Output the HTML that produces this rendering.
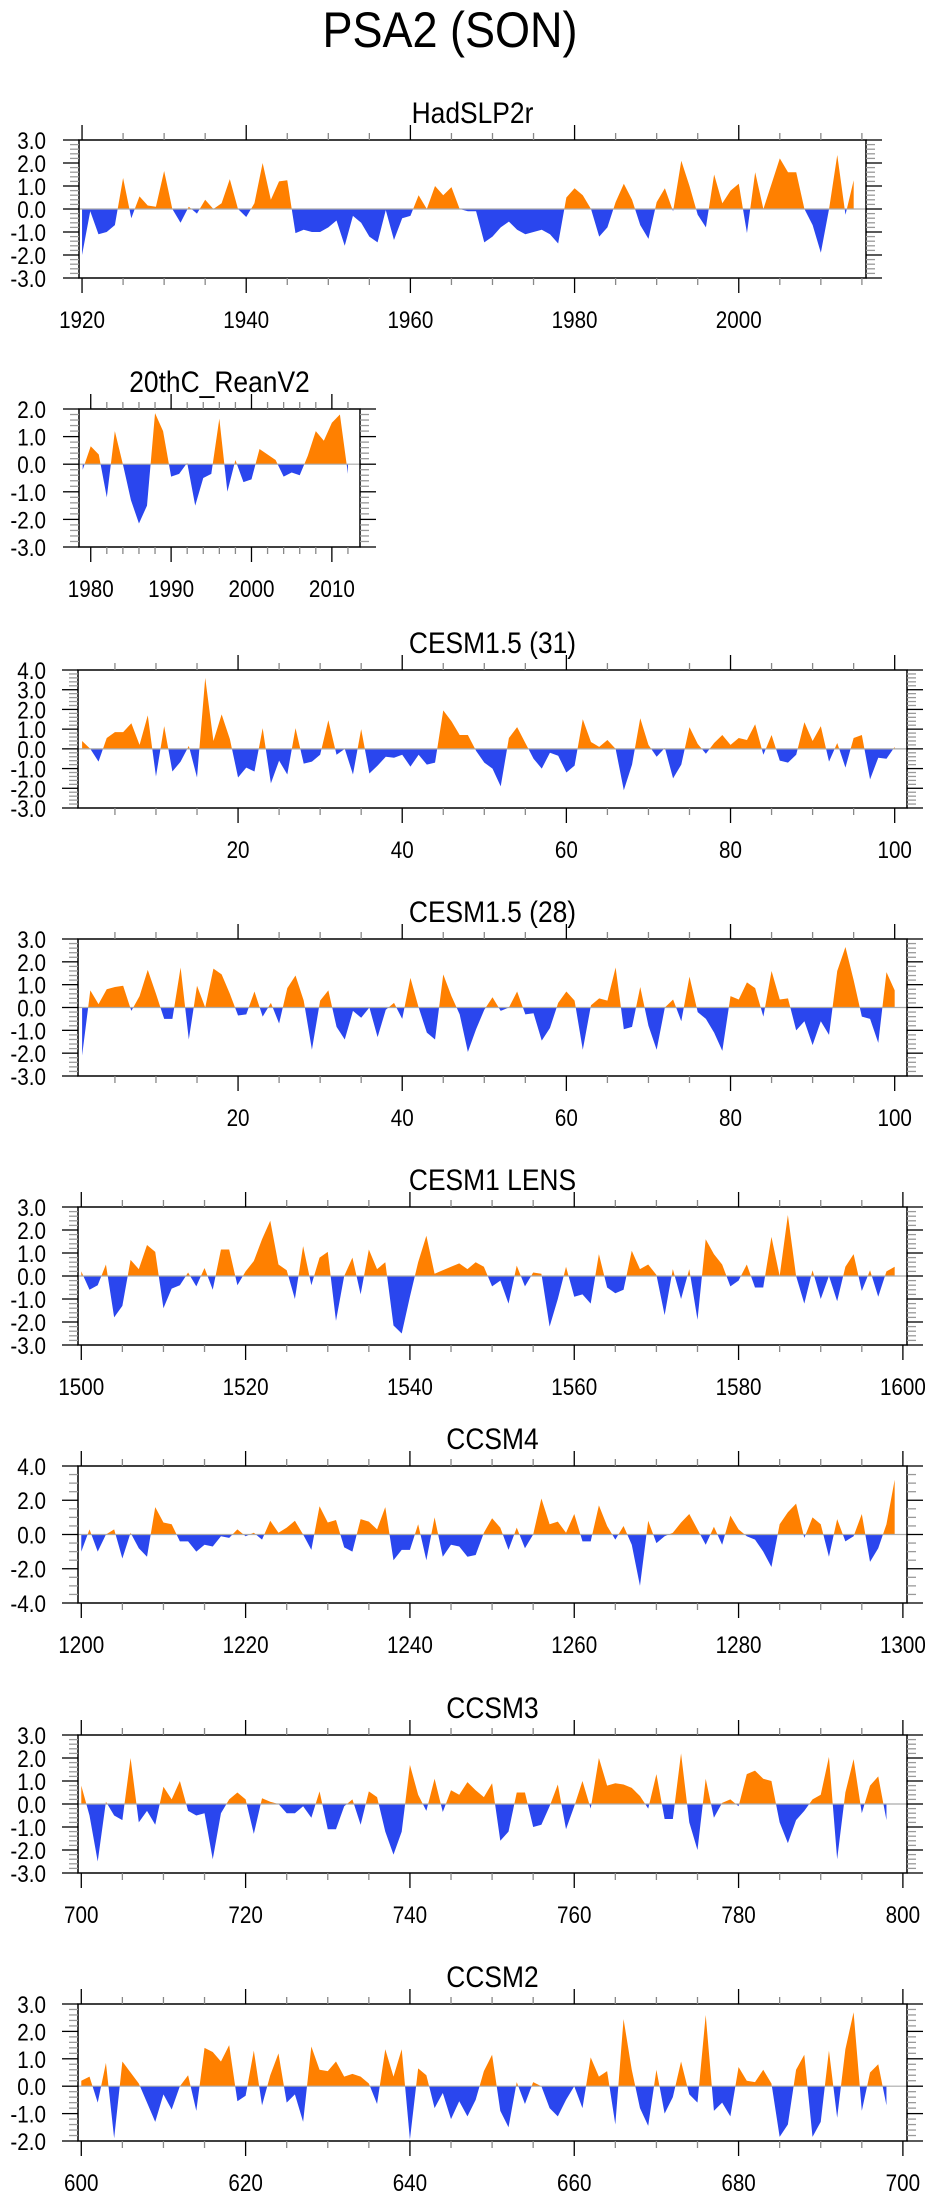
<!DOCTYPE html>
<html><head><meta charset="utf-8">
<style>
html,body{margin:0;padding:0;background:#fff;}
svg{display:block;font-family:"Liberation Sans",sans-serif;}
</style></head>
<body>
<svg id="chart" width="925" height="2191" viewBox="0 0 925 2191" xmlns="http://www.w3.org/2000/svg">
<text x="450" y="47" font-size="50" text-anchor="middle" transform="translate(450,0) scale(0.9,1) translate(-450,0)">PSA2 (SON)</text>
</svg>
<script>
// ---------- data ----------
const hadStart = 1920;
const hadValues = [-2.0,-0.1,-1.1,-1.0,-0.7,1.35,-0.4,0.55,0.15,0.1,1.65,0.0,-0.6,0.1,-0.2,0.4,0.0,0.25,1.3,0.0,-0.35,0.25,2.0,0.4,1.2,1.25,-1.05,-0.9,-1.0,-1.0,-0.8,-0.5,-1.6,-0.3,-0.6,-1.2,-1.45,-0.05,-1.35,-0.4,-0.3,0.6,0.0,1.0,0.6,0.95,0.0,-0.1,-0.1,-1.45,-1.2,-0.8,-0.55,-0.9,-1.1,-1.0,-0.9,-1.1,-1.5,0.5,0.9,0.6,0.0,-1.2,-0.8,0.3,1.1,0.4,-0.7,-1.3,0.3,0.9,-0.1,2.1,1.0,-0.25,-0.8,1.5,0.25,0.8,1.1,-1.05,1.6,0.0,1.1,2.2,1.6,1.6,0.0,-0.7,-1.9,0.0,2.35,-0.25,1.25];
const reanStart = 1979;
const reanValues = [-0.2,0.65,0.35,-1.2,1.2,0.0,-1.3,-2.15,-1.5,1.85,1.2,-0.45,-0.35,0.05,-1.5,-0.5,-0.35,1.65,-1.0,0.15,-0.65,-0.55,0.55,0.35,0.15,-0.45,-0.3,-0.4,0.3,1.2,0.85,1.5,1.8,-0.35];
const c31Start = 1;
const c31Values = [0.4,0.0,-0.65,0.55,0.85,0.85,1.3,0.2,1.7,-1.4,1.15,-1.15,-0.65,0.15,-1.45,3.6,0.4,1.75,0.5,-1.45,-0.95,-1.15,1.05,-1.75,-0.6,-1.3,1.05,-0.75,-0.65,-0.3,1.45,-0.3,0.0,-1.3,1.0,-1.25,-0.85,-0.4,-0.45,-0.3,-0.9,-0.3,-0.8,-0.7,1.95,1.4,0.7,0.7,-0.1,-0.7,-1.0,-1.9,0.55,1.1,0.3,-0.5,-1.0,-0.2,-0.35,-1.2,-0.85,1.5,0.35,0.1,0.45,0.0,-2.1,-0.8,1.55,0.2,-0.4,0.05,-1.5,-0.8,1.1,0.25,-0.25,0.3,0.7,0.2,0.55,0.45,1.25,-0.3,0.7,-0.6,-0.7,-0.3,1.35,0.4,1.15,-0.65,0.3,-0.95,0.55,0.7,-1.55,-0.45,-0.5,0.1];
const c28Start = 1;
const c28Values = [-2.1,0.75,0.15,0.8,0.9,0.95,-0.15,0.5,1.65,0.6,-0.5,-0.5,1.75,-1.4,0.95,0.0,1.7,1.45,0.6,-0.35,-0.3,0.7,-0.4,0.2,-0.7,0.85,1.4,0.3,-1.85,0.3,0.75,-0.85,-1.4,-0.15,-0.45,0.0,-1.3,-0.1,0.2,-0.5,1.3,0.0,-1.1,-1.4,1.45,0.5,-0.3,-1.95,-0.95,-0.1,0.45,-0.15,0.0,0.7,-0.3,-0.25,-1.45,-0.9,0.2,0.7,0.3,-1.85,0.1,0.4,0.3,1.75,-0.95,-0.85,0.9,-0.8,-1.85,0.0,0.35,-0.6,1.35,-0.2,-0.5,-1.1,-1.9,0.5,0.35,1.1,0.85,-0.4,1.6,0.35,0.4,-1.0,-0.6,-1.65,-0.6,-1.2,1.6,2.65,1.2,-0.4,-0.5,-1.55,1.55,0.75];
const lensStart = 1500;
const lensValues = [0.2,-0.6,-0.4,0.5,-1.8,-1.3,0.7,0.3,1.35,1.05,-1.4,-0.55,-0.4,0.15,-0.45,0.35,-0.6,1.15,1.15,-0.4,0.2,0.65,1.6,2.4,0.5,0.25,-1.0,1.3,-0.4,0.8,1.05,-1.95,0.0,0.8,-0.8,1.15,0.3,0.6,-2.15,-2.5,-0.9,0.6,1.75,0.1,0.25,0.4,0.55,0.3,0.6,0.4,-0.45,-0.2,-1.2,0.45,-0.45,0.15,0.1,-2.2,-1.0,0.4,-0.9,-0.8,-1.2,0.95,-0.5,-0.75,-0.6,1.1,0.3,0.5,0.05,-1.7,0.3,-1.0,0.3,-1.9,1.6,0.95,0.5,-0.45,-0.2,0.5,-0.5,-0.5,1.7,0.0,2.65,0.0,-1.2,0.25,-1.0,0.0,-1.1,0.4,0.95,-0.65,0.25,-0.9,0.2,0.4];
const ccsm4Start = 1200;
const ccsm4Values = [-1.0,0.3,-1.0,0.0,0.3,-1.4,0.1,-0.8,-1.3,1.6,0.7,0.6,-0.4,-0.4,-1.0,-0.6,-0.7,-0.1,-0.2,0.3,-0.1,0.1,-0.3,0.8,0.1,0.4,0.8,0.0,-0.9,1.65,0.7,0.85,-0.75,-1.0,0.9,0.75,0.3,1.6,-1.5,-0.9,-0.9,0.6,-1.5,1.0,-1.3,-0.6,-0.7,-1.3,-1.2,0.1,0.95,0.4,-0.9,0.4,-0.8,0.0,2.1,0.6,0.75,0.1,1.2,-0.4,-0.4,1.7,0.5,-0.3,0.5,-0.6,-3.0,0.8,-0.5,-0.1,0.1,0.7,1.2,0.3,-0.6,0.45,-0.6,1.1,0.3,-0.1,-0.3,-1.0,-1.9,0.6,1.3,1.8,-0.2,1.0,0.6,-1.3,0.9,-0.4,-0.1,1.2,-1.6,-0.8,0.6,3.2];
const ccsm3Start = 700;
const ccsm3Values = [0.8,-0.5,-2.5,0.1,-0.5,-0.7,2.0,-0.8,-0.3,-0.9,0.75,0.2,1.0,-0.3,-0.5,-0.4,-2.4,-0.4,0.2,0.5,0.2,-1.3,0.25,0.1,0.0,-0.4,-0.4,-0.1,-0.6,0.55,-1.1,-1.1,-0.1,0.2,-0.9,0.55,0.3,-1.2,-2.2,-1.2,1.7,0.4,-0.3,1.1,-0.35,0.6,0.4,0.95,0.6,0.3,0.9,-1.6,-1.2,0.5,0.5,-1.0,-0.9,-0.1,0.85,-1.1,-0.1,1.0,-0.2,2.0,0.8,0.9,0.85,0.7,0.35,-0.2,1.3,-0.65,-0.65,2.2,-0.8,-2.0,1.1,-0.6,0.05,0.2,-0.1,1.3,1.45,1.1,1.0,-0.8,-1.7,-0.7,-0.3,0.2,0.4,2.05,-2.4,0.5,1.95,-0.4,0.8,1.2,-0.7];
const ccsm2Start = 600;
const ccsm2Values = [0.2,0.35,-0.6,0.85,-1.9,0.9,0.5,0.1,-0.6,-1.3,-0.3,-0.85,0.0,0.4,-0.9,1.4,1.25,0.9,1.5,-0.55,-0.35,1.3,-0.7,0.4,1.2,-0.6,-0.3,-1.3,1.45,0.6,0.55,0.9,0.35,0.45,0.35,0.1,-0.65,1.35,0.35,1.35,-1.95,0.65,0.4,-0.8,-0.25,-1.2,-0.55,-1.1,-0.5,0.55,1.15,-0.9,-1.5,0.15,-0.65,0.15,0.0,-0.8,-1.1,-0.5,0.0,-0.8,1.05,0.35,0.55,-1.4,2.45,0.6,-0.8,-1.45,0.6,-1.0,-0.4,0.9,-0.3,-0.6,2.6,-0.9,-0.6,-1.1,0.7,0.2,0.15,0.6,0.1,-1.85,-1.4,0.6,1.15,-1.85,-1.3,1.3,-1.15,1.35,2.7,-0.9,0.5,0.8,-0.7];

const hadXLabels = [1920,1940,1960,1980,2000];
const reanXLabels = [1980,1990,2000,2010];
const cesmXLabels = [20,40,60,80,100];
const lensXLabels = [1500,1520,1540,1560,1580,1600];
const ccsm4XLabels = [1200,1220,1240,1260,1280,1300];
const ccsm3XLabels = [700,720,740,760,780,800];
const ccsm2XLabels = [600,620,640,660,680,700];

// ---------- drawing ----------
const NS = 'http://www.w3.org/2000/svg';
const svg = document.getElementById('chart');
function mk(tag, attrs, parent) {
  const e = document.createElementNS(NS, tag);
  for (const k in attrs) e.setAttribute(k, attrs[k]);
  (parent || svg).appendChild(e);
  return e;
}
let clipId = 0;
function panel(p) {
  const g = mk('g', {});
  
  
  const L = p.x0, R = p.x1, T = p.y0, B = p.y1;
  const sx = v => L + (v - p.xmin) / (p.xmax - p.xmin) * (R - L);
  const sy = v => B - (v - p.ymin) / (p.ymax - p.ymin) * (B - T);
  // title
  const t = mk('text', {x: (L + R) / 2, y: T - 17, 'font-size': 30, 'text-anchor': 'middle',
    transform: `translate(${(L + R) / 2},0) scale(0.88,1) translate(${-(L + R) / 2},0)`}, g);
  t.textContent = p.title;
  
  
  // area
  const xs = p.values.map((v, i) => sx(p.start + i));
  const ys = p.values.map(v => sy(v));
  const y0 = sy(0);
  let d = `M${xs[0]},${y0}`;
  for (let i = 0; i < xs.length; i++) d += ` L${xs[i]},${ys[i]}`;
  d += ` L${xs[xs.length - 1]},${y0} Z`;
  const cu = 'cu' + (clipId), cd = 'cd' + (clipId++);
  const defs = mk('defs', {}, g);
  const c1 = mk('clipPath', {id: cu}, defs);
  mk('rect', {x: L, y: T, width: R - L, height: y0 - T}, c1);
  const c2 = mk('clipPath', {id: cd}, defs);
  mk('rect', {x: L, y: y0, width: R - L, height: B - y0}, c2);
  const pos = mk('path', {d: d, fill: '#ff8000', 'clip-path': `url(#${cu})`}, g);
  
  
  const neg = mk('path', {d: d, fill: '#2a46ee', 'clip-path': `url(#${cd})`}, g);
  
  
  const zl = mk('line', {x1: L, x2: R, y1: y0, y2: y0, stroke: '#aaaaaa', 'stroke-width': 1.2}, g);
  
  
  // box
  const box = mk('rect', {x: L, y: T, width: R - L, height: B - T, fill: 'none', stroke: '#000', 'stroke-width': 1.5}, g);
  
  
  // x ticks
  const tg = mk('g', {stroke: '#000', 'stroke-width': 1.3}, g);
  
  
  const first = Math.ceil(p.xmin / p.xminor) * p.xminor;
  for (let v = first; v <= p.xmax + 1e-9; v += p.xminor) {
    const x = sx(v);
    const major = Math.abs(v / p.xmajor - Math.round(v / p.xmajor)) < 1e-6;
    const len = major ? 15 : 7;
    mk('line', {x1: x, x2: x, y1: B, y2: B + len, stroke: major ? '#000' : '#888'}, tg);
    mk('line', {x1: x, x2: x, y1: T, y2: T - len, stroke: major ? '#000' : '#888'}, tg);
  }
  p.xlabels.forEach(v => {
    const x = sx(v);
    const lt = mk('text', {x: x, y: B + 50, 'font-size': 24, 'text-anchor': 'middle',
      transform: `translate(${x},0) scale(0.86,1) translate(${-x},0)`}, g);
    lt.textContent = v;
    
    
  });
  // y ticks
  const yg = mk('g', {'stroke-width': 1.3}, g);
  
  
  const n = Math.round((p.ymax - p.ymin) / p.yminor);
  for (let i = 0; i <= n; i++) {
    const v = p.ymin + i * p.yminor;
    const y = sy(v);
    const major = Math.abs(v / p.ymajor - Math.round(v / p.ymajor)) < 1e-6;
    const len = major ? 16 : 9;
    mk('line', {x1: L, x2: L - len, y1: y, y2: y, stroke: major ? '#000' : '#999'}, yg);
    mk('line', {x1: R, x2: R + len, y1: y, y2: y, stroke: major ? '#000' : '#999'}, yg);
    if (major) {
      const yl = mk('text', {x: 46, y: y + 9, 'font-size': 24, 'text-anchor': 'end',
        transform: `translate(46,0) scale(0.86,1) translate(-46,0)`}, g);
      yl.textContent = v.toFixed(1);
      
      
    }
  }
}

panel({name: 'hadslp2r', title: 'HadSLP2r', x0: 79, x1: 866, y0: 140, y1: 278,
  xmin: 1919.63, xmax: 2015.5, ymin: -3, ymax: 3, ymajor: 1, yminor: 0.2,
  xmajor: 20, xminor: 5, xlabels: hadXLabels, start: hadStart, values: hadValues});
panel({name: 'reanv2', title: '20thC_ReanV2', x0: 79, x1: 360, y0: 409, y1: 547,
  xmin: 1978.54, xmax: 2013.5, ymin: -3, ymax: 2, ymajor: 1, yminor: 0.2,
  xmajor: 10, xminor: 2, xlabels: reanXLabels, start: reanStart, values: reanValues});
panel({name: 'cesm15-31', title: 'CESM1.5 (31)', x0: 78, x1: 907, y0: 670, y1: 808,
  xmin: 0.5, xmax: 101.5, ymin: -3, ymax: 4, ymajor: 1, yminor: 0.2,
  xmajor: 20, xminor: 5, xlabels: cesmXLabels, start: c31Start, values: c31Values});
panel({name: 'cesm15-28', title: 'CESM1.5 (28)', x0: 78, x1: 907, y0: 939, y1: 1076,
  xmin: 0.5, xmax: 101.5, ymin: -3, ymax: 3, ymajor: 1, yminor: 0.2,
  xmajor: 20, xminor: 5, xlabels: cesmXLabels, start: c28Start, values: c28Values});
panel({name: 'cesm1-lens', title: 'CESM1 LENS', x0: 78, x1: 907, y0: 1207, y1: 1345,
  xmin: 1499.6, xmax: 1600.5, ymin: -3, ymax: 3, ymajor: 1, yminor: 0.2,
  xmajor: 20, xminor: 5, xlabels: lensXLabels, start: lensStart, values: lensValues});
panel({name: 'ccsm4', title: 'CCSM4', x0: 78, x1: 907, y0: 1466, y1: 1603,
  xmin: 1199.6, xmax: 1300.5, ymin: -4, ymax: 4, ymajor: 2, yminor: 0.5,
  xmajor: 20, xminor: 5, xlabels: ccsm4XLabels, start: ccsm4Start, values: ccsm4Values});
panel({name: 'ccsm3', title: 'CCSM3', x0: 78, x1: 907, y0: 1735, y1: 1873,
  xmin: 699.6, xmax: 800.5, ymin: -3, ymax: 3, ymajor: 1, yminor: 0.2,
  xmajor: 20, xminor: 5, xlabels: ccsm3XLabels, start: ccsm3Start, values: ccsm3Values});
panel({name: 'ccsm2', title: 'CCSM2', x0: 78, x1: 907, y0: 2004, y1: 2141,
  xmin: 599.6, xmax: 700.5, ymin: -2, ymax: 3, ymajor: 1, yminor: 0.2,
  xmajor: 20, xminor: 5, xlabels: ccsm2XLabels, start: ccsm2Start, values: ccsm2Values});
</script>
</body></html>
